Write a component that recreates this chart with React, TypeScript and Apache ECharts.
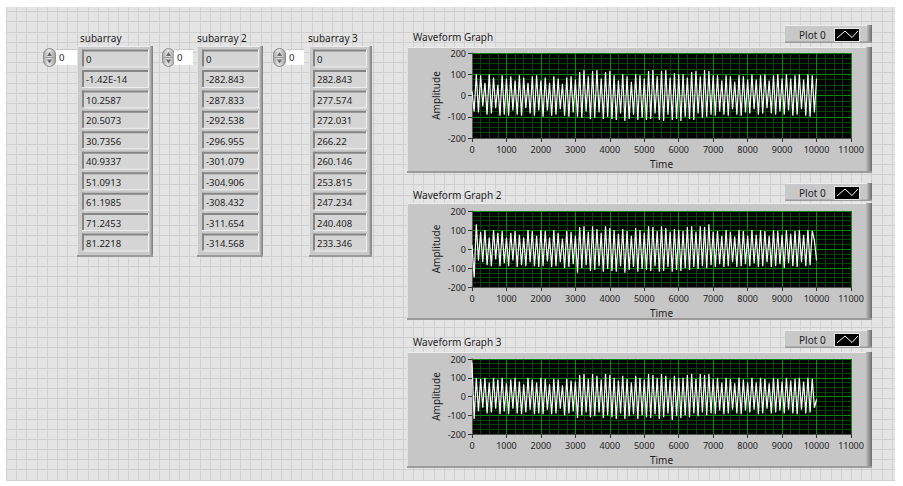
import React, { useEffect, useRef } from "react";
import * as echarts from "echarts";

// ---------------- data ----------------
const subarrayValues1 = ["0", "-1.42E-14", "10.2587", "20.5073", "30.7356", "40.9337", "51.0913", "61.1985", "71.2453", "81.2218"];
const subarrayValues2 = ["0", "-282.843", "-287.833", "-292.538", "-296.955", "-301.079", "-304.906", "-308.432", "-311.654", "-314.568"];
const subarrayValues3 = ["0", "282.843", "277.574", "272.031", "266.22", "260.146", "253.815", "247.234", "240.408", "233.346"];
const subarrayLabels = ["subarray", "subarray 2", "subarray 3"];
const indexValues = ["0", "0", "0"];
const graphTitles = ["Waveform Graph", "Waveform Graph 2", "Waveform Graph 3"];
const plotNames = ["Plot 0", "Plot 0", "Plot 0"];
const timeAxis = { min: 0, max: 11000, interval: 1000 };
const ampAxis = { min: -200, max: 200, interval: 100 };
const xAxisName = "Time";
const yAxisName = "Amplitude";
const waveT0 = 0;
const waveSpan = 10000;

const wave1 = [20,
  -75, 100, -80, 95, -50, 60, -90, 100, -85, 85, -60, 50, -95, 95, -90, 80,
  -95, 90, -70, 70, -90, 95, -95, 85, -60, 60, -85, 90, -95, 95, -70, 70,
  -100, 85, -70, 60, -95, 90, -90, 80, -65, 55, -95, 85, -100, 90, -80, 75,
  -100, 110, -105, 120, -75, 90, -110, 115, -105, 120, -80, 80, -110, 110, -100, 115,
  -110, 95, -115, 70, -85, 100, -120, 90, -110, 65, -90, 100, -115, 95, -105, 80,
  -115, 115, -110, 120, -85, 90, -115, 115, -120, 120, -90, 85, -115, 105, -110, 100,
  -120, 100, -100, 85, -110, 110, -115, 115, -85, 90, -105, 120, -100, 115, -90, 95,
  -95, 95, -75, 70, -90, 95, -95, 90, -65, 65, -90, 95, -95, 90, -80, 75,
  -85, 100, -65, 75, -90, 95, -85, 100, -60, 70, -85, 95, -90, 100, -75, 80,
  -90, 100, -70, 80, -95, 95, -90, 100, -65, 75, -95, 100, -100, 95, -80, 80];

const wave2 = [20,
  -150, 130, -60, 90, -70, 100, -85, 60, -90, 100, -55, 85, -90, 95, -75, 60,
  -90, 85, -60, 95, -95, 75, -85, 60, -90, 100, -70, 95, -90, 70, -95, 100,
  -90, 95, -65, 60, -95, 100, -90, 85, -70, 55, -100, 95, -95, 90, -80, 70,
  -125, 115, -100, 120, -85, 90, -115, 120, -110, 105, -90, 85, -120, 120, -105, 110,
  -115, 100, -120, 80, -90, 105, -125, 95, -110, 70, -95, 110, -120, 100, -105, 85,
  -110, 120, -115, 115, -90, 95, -120, 120, -115, 110, -95, 90, -120, 105, -110, 100,
  -115, 95, -100, 115, -110, 120, -95, 90, -105, 120, -90, 115, -100, 130, -85, 90,
  -95, 95, -80, 70, -95, 100, -90, 90, -70, 65, -95, 100, -90, 95, -80, 70,
  -90, 100, -75, 75, -95, 100, -90, 95, -70, 70, -95, 100, -90, 95, -80, 75,
  -100, 100, -75, 80, -90, 95, -95, 100, -70, 75, -90, 100, -85, 95, 45, -60];

const wave3 = [180,
  -120, 100, -80, 95, -60, 100, -90, 75, -85, 100, -65, 90, -95, 100, -80, 70,
  -95, 90, -65, 100, -90, 80, -95, 65, -85, 100, -70, 90, -95, 75, -90, 100,
  -95, 95, -70, 65, -95, 95, -90, 90, -65, 60, -100, 95, -90, 85, -80, 80,
  -115, 115, -100, 120, -85, 95, -110, 120, -105, 110, -85, 90, -115, 120, -100, 115,
  -110, 100, -120, 85, -90, 110, -120, 95, -105, 75, -95, 110, -120, 100, -100, 90,
  -110, 120, -115, 115, -95, 100, -120, 120, -110, 110, -90, 90, -125, 110, -105, 100,
  -115, 100, -100, 115, -110, 120, -90, 95, -105, 120, -85, 115, -100, 120, -90, 95,
  -95, 100, -75, 75, -95, 100, -90, 95, -70, 70, -90, 100, -95, 90, -75, 75,
  -85, 100, -70, 75, -95, 100, -90, 95, -65, 70, -90, 100, -85, 95, -75, 80,
  -90, 100, -70, 85, -90, 95, -95, 100, -70, 80, -90, 100, -85, 95, -60, -15];

const waves = [wave1, wave2, wave3];
const subarrays = [subarrayValues1, subarrayValues2, subarrayValues3];

// ---------------- layout (styling only) ----------------
const FONT = "'Noto Sans', sans-serif";
const TXT = "#1e1e1e";

const plotAreas = [
  { left: 472, top: 53, width: 379, height: 85 },
  { left: 472, top: 211, width: 379, height: 76 },
  { left: 472, top: 359, width: 379, height: 75 },
];
const graphFrames = [
  { top: 47, bottom: 173, title: 37, legend: 25 },
  { top: 203, bottom: 320, title: 195, legend: 183 },
  { top: 352, bottom: 468, title: 342, legend: 330 },
];
const arrayLayouts = [
  { labelX: 80, spinX: 43, numX: 56, numW: 21, frameX: 77, frameW: 76, boxX: 82, boxW: 67 },
  { labelX: 197, spinX: 162, numX: 174, numW: 19, frameX: 197, frameW: 66, boxX: 202, boxW: 57 },
  { labelX: 308, spinX: 273, numX: 286, numW: 18, frameX: 309, frameW: 63, boxX: 313, boxW: 54 },
];

function rect(x: number, y: number, w: number, h: number, fill: any, z = -10) {
  return { type: "rect", silent: true, z, shape: { x, y, width: w, height: h }, style: { fill } };
}
function line(x1: number, y1: number, x2: number, y2: number, stroke: string, z = -10, lw = 1) {
  return { type: "line", silent: true, z, shape: { x1, y1, x2, y2 }, style: { stroke, lineWidth: lw } };
}
function text(x: number, y: number, s: string, size: number, align = "left", z = 10, color = TXT) {
  return {
    type: "text", silent: true, z, x, y,
    style: { text: s, fill: color, font: `${size}px ${FONT}`, align, textAlign: align, verticalAlign: "middle", textVerticalAlign: "middle" },
  };
}

function buildGraphics() {
  const els: any[] = [];
  // panel
  els.push(rect(6, 7, 889, 473, "#e4e4e4", -30));
  for (let x = 6.1; x < 895; x += 10.18) {
    const xx = Math.round(x) + 0.5;
    els.push(line(xx, 7, xx, 480, "#d0d0d0", -29));
  }
  for (let y = 11.3; y < 480; y += 10.18) {
    const yy = Math.round(y) + 0.5;
    els.push(line(6, yy, 895, yy, "#d0d0d0", -29));
  }

  // arrays
  arrayLayouts.forEach((a, i) => {
    els.push(text(a.labelX, 38, subarrayLabels[i], 10));
    els.push({
      type: "rect", silent: true, z: -5,
      shape: { x: a.spinX + 0.5, y: 48.5, width: 12, height: 18, r: 6 },
      style: {
        fill: new echarts.graphic.LinearGradient(0, 0, 1, 0, [
          { offset: 0, color: "#a9a9a9" }, { offset: 0.45, color: "#e6e6e6" }, { offset: 1, color: "#a0a0a0" },
        ]),
        stroke: "#8c8c8c", lineWidth: 1,
      },
    });
    const cx = a.spinX + 6.5;
    els.push({ type: "polygon", silent: true, z: -4, shape: { points: [[cx - 2.5, 56], [cx + 2.5, 56], [cx, 52]] }, style: { fill: "#6a6a6a" } });
    els.push({ type: "polygon", silent: true, z: -4, shape: { points: [[cx - 2.5, 59.5], [cx + 2.5, 59.5], [cx, 63.5]] }, style: { fill: "#6a6a6a" } });
    els.push(line(a.spinX + 2, 57.5, a.spinX + 11, 57.5, "#9a9a9a", -4));
    els.push(rect(a.numX, 49, a.numW, 16, "#ffffff", -5));
    els.push(line(a.numX, 49.5, a.numX + a.numW, 49.5, "#c8c8c8", -4));
    els.push(text(a.numX + 3, 57, indexValues[i], 9.5));
    els.push(rect(a.frameX, 46, a.frameW, 211, "#c9c9c9", -8));
    els.push(line(a.frameX, 46.5, a.frameX + a.frameW, 46.5, "#ececec", -7));
    els.push(line(a.frameX + 0.5, 46, a.frameX + 0.5, 257, "#e2e2e2", -7));
    els.push(rect(a.frameX + a.frameW - 3, 46, 3, 211,
      new echarts.graphic.LinearGradient(0, 0, 1, 0, [{ offset: 0, color: "#b8b8b8" }, { offset: 1, color: "#7c7c7c" }]), -7));
    els.push(rect(a.frameX, 255, a.frameW, 2, "#9a9a9a", -7));
    subarrays[i].forEach((v, k) => {
      const y = 49.5 + k * 20.45;
      const h = 18;
      els.push(rect(a.boxX, y, a.boxW, h, "#d5d5d5", -6));
      els.push(rect(a.boxX, y, a.boxW, 2, "#858585", -5));
      els.push(rect(a.boxX, y, 2, h, "#858585", -5));
      els.push(line(a.boxX, y + h - 0.5, a.boxX + a.boxW, y + h - 0.5, "#efefef", -5));
      els.push(line(a.boxX + a.boxW - 0.5, y, a.boxX + a.boxW - 0.5, y + h, "#efefef", -5));
      els.push(text(a.boxX + 4, y + h / 2 + 1, v, 9.5));
    });
  });

  // graph frames
  graphFrames.forEach((g, i) => {
    const fx = 407, fw = 465;
    els.push(rect(fx, g.top, fw, g.bottom - g.top, "#c6c6c6", -8));
    els.push(line(fx, g.top + 0.5, fx + fw, g.top + 0.5, "#ececec", -7));
    els.push(line(fx + 0.5, g.top, fx + 0.5, g.bottom, "#e0e0e0", -7));
    els.push(rect(fx + fw - 6, g.top, 6, g.bottom - g.top,
      new echarts.graphic.LinearGradient(0, 0, 1, 0, [{ offset: 0, color: "#bdbdbd" }, { offset: 1, color: "#6c6c6c" }]), -7));
    els.push(rect(fx, g.bottom - 2, fw, 2, "#9c9c9c", -7));
    els.push(text(413, g.title, graphTitles[i], 10));
    const ly = g.legend, lh = 18;
    els.push(rect(785, ly, 87, lh, "#c8c8c8", -8));
    els.push(line(785, ly + 0.5, 872, ly + 0.5, "#ececec", -7));
    els.push(rect(867, ly, 5, lh,
      new echarts.graphic.LinearGradient(0, 0, 1, 0, [{ offset: 0, color: "#b9b9b9" }, { offset: 1, color: "#6c6c6c" }]), -7));
    els.push(rect(785, ly + lh - 1.5, 87, 1.5, "#9a9a9a", -7));
    els.push(text(799, ly + lh / 2 + 0.5, plotNames[i], 10));
    els.push(rect(835, ly + 4, 24, 12, "#000000", -6));
    els.push({
      type: "rect", silent: true, z: -5, shape: { x: 834.5, y: ly + 3.5, width: 25, height: 13 },
      style: { fill: "none", stroke: "#e8e8e8", lineWidth: 1 },
    });
    els.push({
      type: "polyline", silent: true, z: -4,
      shape: { points: [[837, ly + 13], [845, ly + 6], [852, ly + 12.5], [858, ly + 6]] },
      style: { stroke: "#ffffff", lineWidth: 1, fill: "none" },
    });
  });
  return els;
}

const plainNumber = (v: number) => String(v);

function buildOption() {
  const grid = plotAreas.map((p) => ({
    ...p, show: true, backgroundColor: "#000000", borderWidth: 0, containLabel: false, z: 0,
  }));
  const xAxis = plotAreas.map((_, i) => ({
    gridIndex: i, type: "value", min: timeAxis.min, max: timeAxis.max, interval: timeAxis.interval,
    name: xAxisName, nameLocation: "middle", nameGap: 21,
    nameTextStyle: { fontSize: 10, color: TXT, fontFamily: FONT },
    axisLine: { show: true, onZero: false, lineStyle: { color: "#555555", width: 1 } },
    axisTick: { show: true, length: 4, inside: false, lineStyle: { color: "#333333" } },
    axisLabel: { fontSize: 9, color: TXT, fontFamily: FONT, margin: 7, showMinLabel: true, showMaxLabel: true, formatter: plainNumber },
    splitLine: { show: true, lineStyle: { color: "#008f00", width: 1 } },
    minorTick: { show: false, splitNumber: 4 },
    minorSplitLine: { show: true, lineStyle: { color: "#024802", width: 1 } },
  }));
  const yAxis = plotAreas.map((_, i) => ({
    gridIndex: i, type: "value", min: ampAxis.min, max: ampAxis.max, interval: ampAxis.interval,
    name: yAxisName, nameLocation: "middle", nameGap: 31, nameRotate: 90,
    nameTextStyle: { fontSize: 10, color: TXT, fontFamily: FONT },
    axisLine: { show: true, onZero: false, lineStyle: { color: "#555555", width: 1 } },
    axisTick: { show: true, length: 4, inside: false, lineStyle: { color: "#333333" } },
    axisLabel: { fontSize: 9, color: TXT, fontFamily: FONT, margin: 6, showMinLabel: true, showMaxLabel: true, formatter: plainNumber },
    splitLine: { show: true, lineStyle: { color: "#008f00", width: 1 } },
    minorTick: { show: false, splitNumber: 4 },
    minorSplitLine: { show: true, lineStyle: { color: "#024802", width: 1 } },
  }));
  const series = waves.map((w, i) => {
    const dt = waveSpan / (w.length - 1);
    return {
      type: "line", name: plotNames[i], xAxisIndex: i, yAxisIndex: i,
      data: w.map((v, k) => [waveT0 + k * dt, v]),
      showSymbol: false, symbol: "none", clip: true, z: 3,
      lineStyle: { color: "#ffffff", width: 1.2 },
    };
  });
  return {
    animation: false,
    backgroundColor: "#ffffff",
    textStyle: { fontFamily: FONT },
    grid, xAxis, yAxis, series,
    graphic: { elements: buildGraphics() },
  };
}

export default function App() {
  const ref = useRef<HTMLDivElement>(null);
  useEffect(() => {
    if (!ref.current) return;
    const chart = echarts.init(ref.current, undefined, { renderer: "svg" });
    chart.setOption(buildOption() as any);
    return () => chart.dispose();
  }, []);
  return <div ref={ref} style={{ position: "fixed", left: 0, top: 0, width: 903, height: 486 }} />;
}
